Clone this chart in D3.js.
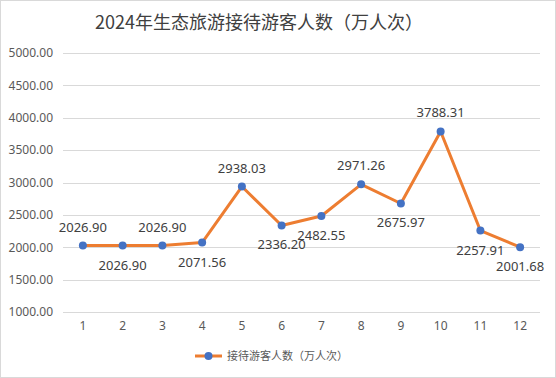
<!DOCTYPE html>
<html>
<head>
<meta charset="utf-8">
<script src="https://cdn.jsdelivr.net/npm/d3@7"></script>
<style>
  body { margin: 0; background: #fff; }
  text { font-family: "Noto Sans", "Noto Sans CJK SC", sans-serif; }
</style>
</head>
<body>
<svg id="chart" width="556" height="378"></svg>
<script>
// Chart data
const months = ['1', '2', '3', '4', '5', '6', '7', '8', '9', '10', '11', '12'];
const visitors = [2026.90, 2026.90, 2026.90, 2071.56, 2938.03, 2336.20, 2482.55, 2971.26, 2675.97, 3788.31, 2257.91, 2001.68];
const yTicks = [1000, 1500, 2000, 2500, 3000, 3500, 4000, 4500, 5000];
const seriesName = '接待游客人数（万人次）';
const titleText = '2024年生态旅游接待游客人数（万人次）';

// Where each data label sits relative to its point
const labelSide = ['above', 'below', 'above', 'below', 'above', 'below', 'below', 'above', 'below', 'above', 'below', 'below'];

const svg = d3.select('#chart');
const width = +svg.attr('width');
const height = +svg.attr('height');

// Display settings
const lineColor = '#ED7D31';
const markerColor = '#4472C4';
const textColor = '#595959';
const gridColor = '#d9d9d9';
const plot = { left: 63, right: 540, top: 53, bottom: 312 };

// Outer border
svg.append('rect')
  .attr('x', 0.5).attr('y', 0.5)
  .attr('width', width - 1).attr('height', height - 1)
  .attr('fill', '#fff')
  .attr('stroke', gridColor);

// Title
svg.append('text')
  .attr('x', 259)
  .attr('y', 29)
  .attr('text-anchor', 'middle')
  .attr('fill', '#404040')
  .style('font-family', '"Noto Sans CJK SC", sans-serif')
  .style('font-size', '18px')
  .text(titleText);

// Scales
const x = d3.scaleBand().domain(months).range([plot.left, plot.right]);
const y = d3.scaleLinear().domain([1000, 5000]).range([plot.bottom, plot.top]);

// Gridlines
svg.append('g')
  .selectAll('line')
  .data(yTicks)
  .join('line')
  .attr('x1', plot.left).attr('x2', plot.right)
  .attr('y1', d => Math.round(y(d)) + 0.5)
  .attr('y2', d => Math.round(y(d)) + 0.5)
  .attr('stroke', gridColor);

// Y axis labels
const yAxis = svg.append('g')
  .attr('transform', `translate(${plot.left - 7},0)`)
  .call(d3.axisLeft(y).tickValues(yTicks).tickFormat(d3.format('.2f')).tickSize(0));
yAxis.select('.domain').remove();
yAxis.selectAll('text')
  .attr('fill', textColor)
  .style('font-size', '12px');

// X axis labels
const xAxis = svg.append('g')
  .attr('transform', `translate(0,${plot.bottom + 6})`)
  .call(d3.axisBottom(x).tickSize(0));
xAxis.select('.domain').remove();
xAxis.selectAll('text')
  .attr('fill', textColor)
  .style('font-size', '12px');

// Line
const line = d3.line()
  .x((d, i) => x(months[i]) + x.bandwidth() / 2)
  .y(d => y(d));

svg.append('path')
  .datum(visitors)
  .attr('d', line)
  .attr('fill', 'none')
  .attr('stroke', lineColor)
  .attr('stroke-width', 3)
  .attr('stroke-linejoin', 'round');

// Markers
svg.append('g')
  .selectAll('circle')
  .data(visitors)
  .join('circle')
  .attr('cx', (d, i) => x(months[i]) + x.bandwidth() / 2)
  .attr('cy', d => y(d))
  .attr('r', 4)
  .attr('fill', markerColor);

// Data labels
svg.append('g')
  .selectAll('text')
  .data(visitors)
  .join('text')
  .attr('x', (d, i) => x(months[i]) + x.bandwidth() / 2)
  .attr('y', (d, i) => y(d) + (labelSide[i] === 'above' ? -14 : 24))
  .attr('text-anchor', 'middle')
  .attr('fill', '#404040')
  .style('font-size', '13px')
  .text(d => d.toFixed(2));

// Legend
const legend = svg.append('g').attr('transform', 'translate(195,356)');
legend.append('line')
  .attr('x1', 0).attr('x2', 27)
  .attr('y1', 0).attr('y2', 0)
  .attr('stroke', lineColor)
  .attr('stroke-width', 3);
legend.append('circle')
  .attr('cx', 13.5).attr('cy', 0)
  .attr('r', 4)
  .attr('fill', markerColor);
legend.append('text')
  .attr('x', 32)
  .attr('y', 4)
  .attr('fill', textColor)
  .style('font-family', '"Noto Sans CJK SC", sans-serif')
  .style('font-size', '11px')
  .text(seriesName);
</script>
</body>
</html>
